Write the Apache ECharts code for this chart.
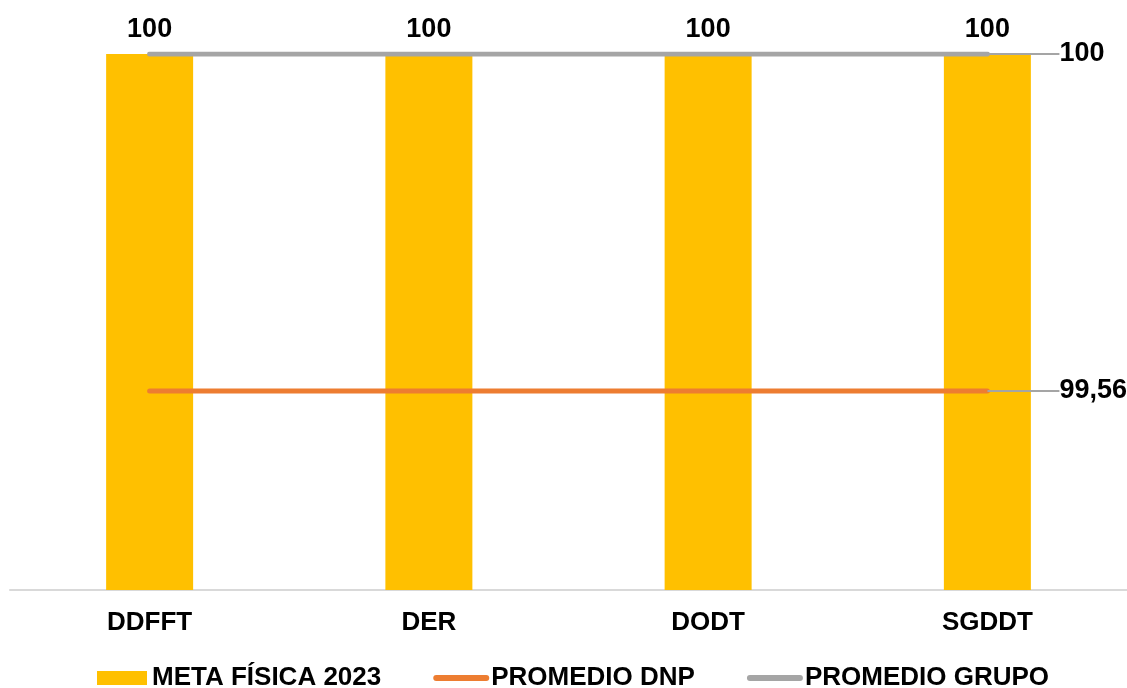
<!DOCTYPE html>
<html>
<head>
<meta charset="utf-8">
<script src="https://cdn.jsdelivr.net/npm/echarts@6/dist/echarts.min.js"></script>
<style>
    html, body { margin: 0; padding: 0; background: #fff; }
    #main { width: 1127px; height: 688px; }
</style>
</head>
<body>
<div id="main"></div>
<script>
var categories = ['DDFFT', 'DER', 'DODT', 'SGDDT'];
var metaFisica = [100, 100, 100, 100];
var promedioDnp = [99.56, 99.56, 99.56, 99.56];
var promedioGrupo = [100, 100, 100, 100];

function fmt(v) {
    return String(v).replace('.', ',');
}

// solo la ultima etiqueta de las lineas, con linea guia gris
function lastLabel(arr) {
    return arr.map(function (v, i) {
        if (i !== arr.length - 1) return v;
        return { value: v, label: { show: true } };
    });
}

var font = 'Liberation Sans, Arial, sans-serif';
var chart = echarts.init(document.getElementById('main'));

var lineLabel = {
    show: false,
    position: 'right',
    distance: 0,
    color: '#000',
    fontSize: 27,
    fontWeight: 'bold',
    fontFamily: font,
    formatter: function (p) { return fmt(p.value); }
};

option = {
    animation: false,
    grid: { left: 10, right: -5, top: 54, bottom: 98, containLabel: false },
    legend: {
        top: 660,
        left: 92,
        itemWidth: 50,
        itemHeight: 14,
        itemGap: 52,
        textStyle: { fontSize: 26, fontWeight: 'bold', fontFamily: font, color: '#000' },
        data: [
            { name: 'META FÍSICA 2023', icon: 'rect' },
            { name: 'PROMEDIO DNP', itemStyle: { opacity: 0 }, lineStyle: { width: 6, cap: 'round' } },
            { name: 'PROMEDIO GRUPO', itemStyle: { opacity: 0 }, lineStyle: { width: 6, cap: 'round' } }
        ]
    },
    xAxis: {
        type: 'category',
        data: categories,
        axisLine: { lineStyle: { color: '#d9d9d9', width: 2 } },
        axisTick: { show: false },
        axisLabel: {
            margin: 20,
            color: '#000',
            fontSize: 26,
            fontWeight: 'bold',
            fontFamily: font
        }
    },
    yAxis: {
        type: 'value',
        min: 99.3,
        max: 100,
        show: false,
        splitLine: { show: false }
    },
    series: [
        {
            name: 'META FÍSICA 2023',
            type: 'bar',
            data: metaFisica,
            barWidth: 87,
            itemStyle: { color: '#FFC000' },
            label: {
                show: true,
                position: 'top',
                distance: 11,
                color: '#000',
                fontSize: 27,
                fontWeight: 'bold',
                fontFamily: font
            }
        },
        {
            name: 'PROMEDIO DNP',
            type: 'line',
            data: lastLabel(promedioDnp),
            symbol: 'circle',
            symbolSize: 0.1,
            lineStyle: { color: '#ED7D31', width: 5, cap: 'round' },
            itemStyle: { color: '#ED7D31' },
            label: lineLabel,
            labelLayout: { dx: 72 },
            labelLine: { show: true, lineStyle: { color: '#A5A5A5', width: 2 } }
        },
        {
            name: 'PROMEDIO GRUPO',
            type: 'line',
            data: lastLabel(promedioGrupo),
            symbol: 'circle',
            symbolSize: 0.1,
            lineStyle: { color: '#A5A5A5', width: 5, cap: 'round' },
            itemStyle: { color: '#A5A5A5' },
            label: lineLabel,
            labelLayout: { dx: 72 },
            labelLine: { show: true, lineStyle: { color: '#A5A5A5', width: 2 } }
        }
    ]
};
chart.setOption(option);
</script>
</body>
</html>
